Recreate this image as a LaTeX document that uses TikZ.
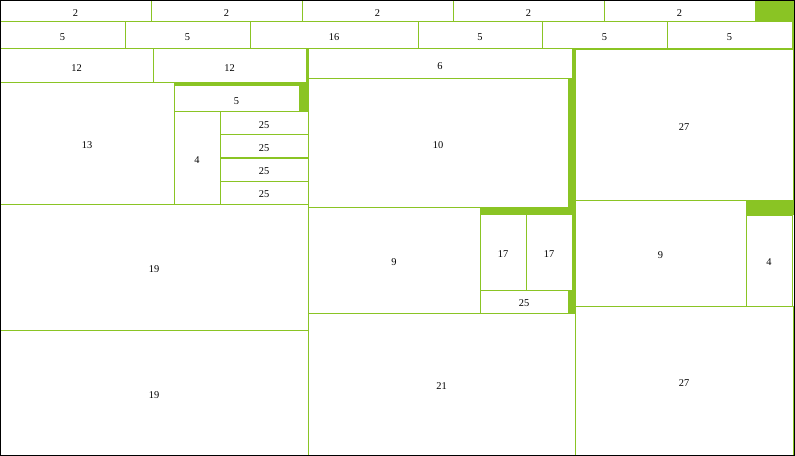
\documentclass[tikz,border=0pt]{standalone}
\usepackage{fontspec}
\setmainfont{Liberation Serif}
\definecolor{leafgreen}{RGB}{138,196,36}
\begin{document}
\begin{tikzpicture}[x=0.75pt,y=-0.75pt,
    cell/.style={draw=leafgreen, fill=white, line width=0.75pt},
    gap/.style={fill=leafgreen},
    lbl/.style={font=\fontsize{7.8}{9}\selectfont, inner sep=0pt, yshift=-1.3pt}]
  \useasboundingbox (0,0) rectangle (795,456);

  % green padding of the groups
  \fill[gap] (755,0) rectangle (794,22);
  \fill[gap] (791,22) rectangle (794,50);
  \fill[gap] (574,48.5) rectangle (794,51);
  \fill[gap] (306,49) rectangle (308,83);
  \fill[gap] (174,83) rectangle (308,112);
  \fill[gap] (568,49) rectangle (575,207);
  \fill[gap] (480,207) rectangle (575,313);
  \fill[gap] (746,200) rectangle (794,215);

  % leaves: x1/y1/x2/y2/value
  \foreach \xa/\ya/\xb/\yb/\v [count=\i] in {
      0/0/151/22/2, 151/0/302/22/2, 302/0/453/22/2, 453/0/604/22/2, 604/0/755/22/2,
      0/22/125/49/5, 125/22/250/49/5, 250/22/418/49/16, 418/22/542/49/5,
      542/22/667/49/5, 667/22/792/49/5,
      0/49/153/83/12, 153/49/306/83/12,
      0/83/174/204/13, 174/86/299/112/5, 174/112/220/204/4,
      220/112/308/135/25, 220/135/308/158/25, 220/158/308/181/25, 220/181/308/204/25,
      0/204/308/330/19, 0/330/308/456/19,
      308/49/572/79/6, 308/79/568/207/10, 308/207/480/313/9,
      480/214/526/290/17, 526/214/572/290/17, 480/290/568/313/25,
      308/313/575/456/21,
      575/50/793/200/27, 575/200/746/306/9, 746/215/792/306/4, 575/306/793/456/27}{
    \draw[cell] (\xa,\ya) rectangle (\xb,\yb);
    \node[lbl] (leaf\i) at ({(\xa+\xb)/2},{(\ya+\yb)/2}) {\v};
  }

  \draw[line width=1pt] (0.5,0.5) rectangle (794.5,455.5);
\end{tikzpicture}
\end{document}
